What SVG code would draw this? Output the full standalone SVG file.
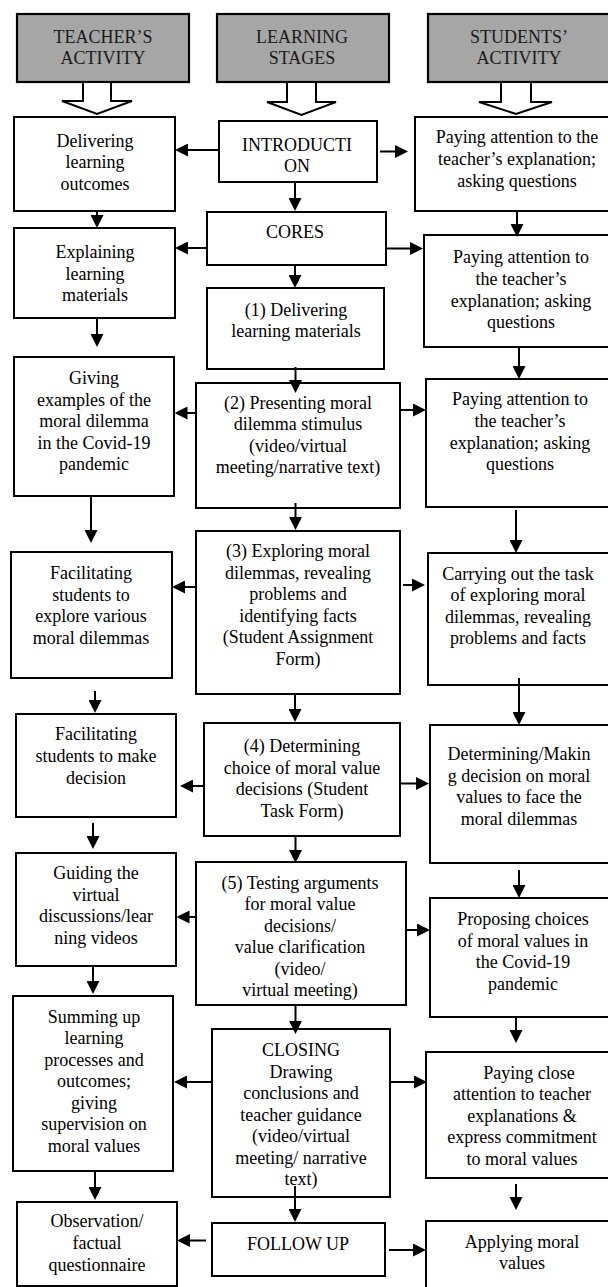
<svg xmlns="http://www.w3.org/2000/svg" width="608" height="1287" viewBox="0 0 608 1287" font-family="'Liberation Serif', 'DejaVu Serif', serif">
<style>
.hdr{fill:#a6a6a6;stroke:#000;stroke-width:2.2}
.box{fill:#fff;stroke:#000;stroke-width:2}
.hol{fill:#fff;stroke:#000;stroke-width:2;stroke-linejoin:miter}
text{font-family:'Liberation Serif','DejaVu Serif',serif;font-size:18px;text-anchor:middle;fill:#000}
.ht{fill:#1a1a1a}
#connectors line{stroke:#000;stroke-width:2;marker-end:url(#ah)}
</style>
<defs>
<marker id="ah" markerUnits="userSpaceOnUse" markerWidth="13" markerHeight="13" refX="6.5" refY="6.5" orient="auto">
<path d="M0,0 L13,6.5 L0,13 z" fill="#000"/>
</marker>
</defs>
<rect width="608" height="1287" fill="#fff"/>

<g id="hdr-teacher"><rect class="hdr" x="17" y="14" width="172" height="68"/><text class="ht" x="103"><tspan x="103" y="42.7">TEACHER’S</tspan><tspan x="103" y="64.3">ACTIVITY</tspan></text></g>
<g id="hdr-stages"><rect class="hdr" x="217" y="14" width="172" height="68"/><text class="ht" x="302"><tspan x="302" y="42.7">LEARNING</tspan><tspan x="302" y="64.3">STAGES</tspan></text></g>
<g id="hdr-students"><rect class="hdr" x="428" y="14" width="182" height="68"/><text class="ht" x="519"><tspan x="519" y="42.7">STUDENTS’</tspan><tspan x="519" y="64.3">ACTIVITY</tspan></text></g>

<g id="hollow-arrows">
<polygon class="hol" points="83,82 83,101 62,101 97,114 132,101 111,101 111,82"/>
<polygon class="hol" points="287,82 287,102 267,102 301.5,115 336,102 316,102 316,82"/>
<polygon class="hol" points="501,82 501,102 479,102 516,114 552,102 531,102 531,82"/>
</g>

<g id="L1"><rect class="box" x="14" y="117" width="161" height="94"/><text><tspan x="95" y="146.5">Delivering</tspan><tspan x="95" y="168">learning</tspan><tspan x="95" y="189.5">outcomes</tspan></text></g>
<g id="L2"><rect class="box" x="14" y="228" width="161" height="90"/><text><tspan x="95" y="258">Explaining</tspan><tspan x="95" y="279.5">learning</tspan><tspan x="95" y="301">materials</tspan></text></g>
<g id="L3"><rect class="box" x="14" y="357" width="160" height="139"/><text><tspan x="94" y="384">Giving</tspan><tspan x="94" y="405.5">examples of the</tspan><tspan x="94" y="427">moral dilemma</tspan><tspan x="94" y="448.5">in the Covid-19</tspan><tspan x="94" y="470">pandemic</tspan></text></g>
<g id="L4"><rect class="box" x="11" y="552" width="161" height="126"/><text><tspan x="91" y="579">Facilitating</tspan><tspan x="91" y="600.5">students to</tspan><tspan x="91" y="622">explore various</tspan><tspan x="91" y="643.5">moral dilemmas</tspan></text></g>
<g id="L5"><rect class="box" x="16" y="714" width="160" height="103"/><text><tspan x="96" y="740">Facilitating</tspan><tspan x="96" y="762">students to make</tspan><tspan x="96" y="784">decision</tspan></text></g>
<g id="L6"><rect class="box" x="16" y="853" width="160" height="113"/><text><tspan x="96" y="879">Guiding the</tspan><tspan x="96" y="900.5">virtual</tspan><tspan x="96" y="922">discussions/lear</tspan><tspan x="96" y="943.5">ning videos</tspan></text></g>
<g id="L7"><rect class="box" x="13" y="996" width="160" height="175"/><text><tspan x="94" y="1022.5">Summing up</tspan><tspan x="94" y="1044">learning</tspan><tspan x="94" y="1065.5">processes and</tspan><tspan x="94" y="1087">outcomes;</tspan><tspan x="94" y="1108.5">giving</tspan><tspan x="94" y="1130">supervision on</tspan><tspan x="94" y="1151.5">moral values</tspan></text></g>
<g id="L8"><rect class="box" x="17" y="1202" width="160" height="84"/><text><tspan x="97" y="1227">Observation/</tspan><tspan x="97" y="1249">factual</tspan><tspan x="97" y="1271">questionnaire</tspan></text></g>

<g id="C0"><rect class="box" x="219" y="121" width="158" height="61"/><text><tspan x="297" y="151">INTRODUCTI</tspan><tspan x="297" y="172">ON</tspan></text></g>
<g id="C1"><rect class="box" x="207" y="212" width="179" height="53"/><text x="295" y="238">CORES</text></g>
<g id="C2"><rect class="box" x="207" y="288" width="177" height="81"/><text><tspan x="296" y="316">(1) Delivering</tspan><tspan x="296" y="337">learning materials</tspan></text></g>
<g id="C3"><rect class="box" x="196" y="383" width="204" height="125"/><text><tspan x="298" y="408.5">(2) Presenting moral</tspan><tspan x="298" y="430">dilemma stimulus</tspan><tspan x="298" y="451.5">(video/virtual</tspan><tspan x="298" y="473">meeting/narrative text)</tspan></text></g>
<g id="C4"><rect class="box" x="196" y="531" width="204" height="163"/><text><tspan x="298" y="557">(3) Exploring moral</tspan><tspan x="298" y="578.5">dilemmas, revealing</tspan><tspan x="298" y="600">problems and</tspan><tspan x="298" y="621.5">identifying facts</tspan><tspan x="298" y="643">(Student Assignment</tspan><tspan x="298" y="664.5">Form)</tspan></text></g>
<g id="C5"><rect class="box" x="204" y="723" width="196" height="113"/><text><tspan x="302" y="752">(4) Determining</tspan><tspan x="302" y="773.5">choice of moral value</tspan><tspan x="302" y="795">decisions (Student</tspan><tspan x="302" y="816.5">Task Form)</tspan></text></g>
<g id="C6"><rect class="box" x="196" y="862" width="210" height="143"/><text><tspan x="300" y="888.5">(5) Testing arguments</tspan><tspan x="300" y="910">for moral value</tspan><tspan x="300" y="931.5">decisions/</tspan><tspan x="300" y="953">value clarification</tspan><tspan x="300" y="974.5">(video/</tspan><tspan x="300" y="996">virtual meeting)</tspan></text></g>
<g id="C7"><rect class="box" x="212" y="1029" width="178" height="168"/><text><tspan x="301" y="1056">CLOSING</tspan><tspan x="301" y="1077.5">Drawing</tspan><tspan x="301" y="1099">conclusions and</tspan><tspan x="301" y="1120.5">teacher guidance</tspan><tspan x="301" y="1142">(video/virtual</tspan><tspan x="301" y="1163.5">meeting/ narrative</tspan><tspan x="301" y="1185">text)</tspan></text></g>
<g id="C8"><rect class="box" x="212" y="1223" width="173" height="53"/><text x="298" y="1250">FOLLOW UP</text></g>

<g id="R1"><rect class="box" x="415" y="117" width="196" height="94"/><text><tspan x="517" y="143">Paying attention to the</tspan><tspan x="517" y="165">teacher’s explanation;</tspan><tspan x="517" y="187">asking questions</tspan></text></g>
<g id="R2"><rect class="box" x="424" y="235" width="187" height="112"/><text><tspan x="521" y="262.5">Paying attention to</tspan><tspan x="521" y="284.5">the teacher’s</tspan><tspan x="521" y="306.5">explanation; asking</tspan><tspan x="521" y="328">questions</tspan></text></g>
<g id="R3"><rect class="box" x="426" y="379" width="185" height="128"/><text><tspan x="520" y="405">Paying attention to</tspan><tspan x="520" y="427">the teacher’s</tspan><tspan x="520" y="448.5">explanation; asking</tspan><tspan x="520" y="470">questions</tspan></text></g>
<g id="R4"><rect class="box" x="428" y="553" width="183" height="132"/><text><tspan x="518" y="579.5">Carrying out the task</tspan><tspan x="518" y="601">of exploring moral</tspan><tspan x="518" y="622.5">dilemmas, revealing</tspan><tspan x="518" y="644">problems and facts</tspan></text></g>
<g id="R5"><rect class="box" x="430" y="725" width="181" height="138"/><text><tspan x="519" y="760">Determining/Makin</tspan><tspan x="519" y="781.5">g decision on moral</tspan><tspan x="519" y="803">values to face the</tspan><tspan x="519" y="824.5">moral dilemmas</tspan></text></g>
<g id="R6"><rect class="box" x="430" y="898" width="181" height="119"/><text><tspan x="523" y="925">Proposing choices</tspan><tspan x="523" y="946.5">of moral values in</tspan><tspan x="523" y="968">the Covid-19</tspan><tspan x="523" y="989.5">pandemic</tspan></text></g>
<g id="R7"><rect class="box" x="426" y="1052" width="185" height="126"/><text><tspan x="529" y="1078.5">Paying close</tspan><tspan x="522" y="1100">attention to teacher</tspan><tspan x="522" y="1121.5">explanations &amp;</tspan><tspan x="522" y="1143">express commitment</tspan><tspan x="522" y="1164.5">to moral values</tspan></text></g>
<g id="R8"><rect class="box" x="426" y="1221" width="185" height="70"/><text><tspan x="522" y="1247.5">Applying moral</tspan><tspan x="522" y="1269">values</tspan></text></g>

<g id="connectors">
<line x1="97" y1="211" x2="97" y2="221.5"/>
<line x1="97" y1="318" x2="97" y2="340.5"/>
<line x1="91" y1="496" x2="91" y2="536.5"/>
<line x1="95" y1="691" x2="95" y2="706.5"/>
<line x1="93" y1="823" x2="93" y2="842.5"/>
<line x1="93" y1="966" x2="93" y2="987.5"/>
<line x1="95" y1="1171" x2="95" y2="1193.5"/>

<line x1="295" y1="182" x2="295" y2="204.5"/>
<line x1="295" y1="265" x2="295" y2="281.5"/>
<line x1="295.5" y1="367" x2="295.5" y2="386.5"/>
<line x1="295.5" y1="503" x2="295.5" y2="523.5"/>
<line x1="295" y1="694" x2="295" y2="715.5"/>
<line x1="295.5" y1="836" x2="295.5" y2="856.5"/>
<line x1="295.5" y1="1005" x2="295.5" y2="1027.5"/>
<line x1="295" y1="1186" x2="295" y2="1215.5"/>

<line x1="219" y1="150" x2="181.5" y2="150"/>
<line x1="207" y1="248" x2="181.5" y2="248"/>
<line x1="196" y1="413" x2="181" y2="413"/>
<line x1="196" y1="587" x2="178.5" y2="587"/>
<line x1="204" y1="786" x2="186.5" y2="786"/>
<line x1="196" y1="917" x2="183" y2="917"/>
<line x1="212" y1="1082" x2="180.5" y2="1082"/>
<line x1="206" y1="1240.5" x2="183.5" y2="1240.5"/>

<line x1="380" y1="151.5" x2="401.5" y2="151.5"/>
<line x1="386" y1="248.5" x2="416.5" y2="248.5"/>
<line x1="400" y1="410" x2="419.5" y2="410"/>
<line x1="403" y1="585" x2="418.5" y2="585"/>
<line x1="400" y1="783.5" x2="422.5" y2="783.5"/>
<line x1="406" y1="930" x2="423.5" y2="930"/>
<line x1="390" y1="1082" x2="420.5" y2="1082"/>
<line x1="389" y1="1250" x2="419.5" y2="1250"/>

<line x1="517" y1="211" x2="517" y2="230.5"/>
<line x1="519" y1="347" x2="519" y2="372.5"/>
<line x1="516" y1="510" x2="516" y2="546.5"/>
<line x1="519" y1="678" x2="519" y2="718.5"/>
<line x1="519" y1="870" x2="519" y2="891.5"/>
<line x1="516" y1="1017" x2="516" y2="1036.5"/>
<line x1="516" y1="1184" x2="516" y2="1203.5"/>
</g>
</svg>
